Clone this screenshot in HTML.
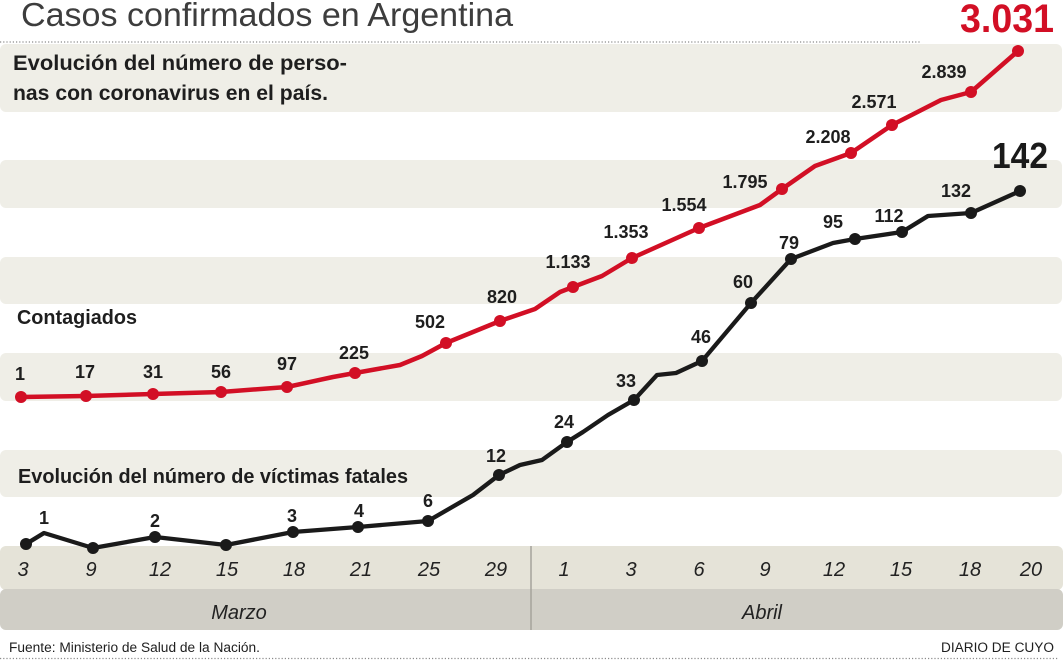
<!DOCTYPE html>
<html>
<head>
<meta charset="utf-8">
<style>
html,body{margin:0;padding:0;background:#fff;}
svg{display:block;}
text{font-family:"Liberation Sans",Arial,sans-serif;}
.lbl{font-size:18px;font-weight:bold;fill:#1e1e1e;text-anchor:middle;}
.ax{font-size:20px;font-style:italic;fill:#222;text-anchor:middle;}
</style>
</head>
<body>
<svg width="1064" height="663" viewBox="0 0 1064 663" xmlns="http://www.w3.org/2000/svg">
  <!-- bands -->
  <rect x="0" y="44" width="1062" height="68" rx="6" fill="#efeee7"/>
  <rect x="0" y="160" width="1062" height="48" rx="6" fill="#efeee7"/>
  <rect x="0" y="257" width="1062" height="47" rx="6" fill="#efeee7"/>
  <rect x="0" y="353" width="1062" height="48" rx="6" fill="#efeee7"/>
  <rect x="0" y="450" width="1062" height="47" rx="6" fill="#efeee7"/>
  <rect x="0" y="546" width="1063" height="44" rx="6" fill="#e5e3d8"/>
  <rect x="0" y="589" width="1063" height="41" rx="6" fill="#d0cec6"/>
  <line x1="531" y1="546" x2="531" y2="630" stroke="#a5a39c" stroke-width="1.5"/>

  <!-- dotted lines -->
  <line x1="0" y1="42" x2="920" y2="42" stroke="#8a8a8a" stroke-width="1.2" stroke-dasharray="1.2 2"/>
  <line x1="0" y1="658.5" x2="1058" y2="658.5" stroke="#8a8a8a" stroke-width="1.2" stroke-dasharray="1.2 2"/>

  <!-- title -->
  <text x="21" y="26" font-size="33" fill="#3d3d3d" textLength="492" lengthAdjust="spacingAndGlyphs">Casos confirmados en Argentina</text>
  <text x="960" y="32" font-size="40" font-weight="bold" fill="#d20f25" textLength="94" lengthAdjust="spacingAndGlyphs">3.031</text>

  <!-- subtitles -->
  <text x="13" y="70" font-size="21.5" font-weight="bold" fill="#1e1e1e" textLength="334" lengthAdjust="spacingAndGlyphs">Evolución del número de perso-</text>
  <text x="13" y="100" font-size="21.5" font-weight="bold" fill="#1e1e1e" textLength="315" lengthAdjust="spacingAndGlyphs">nas con coronavirus en el país.</text>
  <text x="17" y="324" font-size="20" font-weight="bold" fill="#1e1e1e" textLength="120" lengthAdjust="spacingAndGlyphs">Contagiados</text>
  <text x="18" y="483" font-size="20" font-weight="bold" fill="#1e1e1e" textLength="390" lengthAdjust="spacingAndGlyphs">Evolución del número de víctimas fatales</text>

  <!-- red line -->
  <polyline fill="none" stroke="#d20f25" stroke-width="4.5" stroke-linejoin="round" stroke-linecap="round"
    points="21,397 86,396 153,394 221,392 287,387 333,377 355,373 400,365 422,356 446,343 500,321 535,309 560,292 573,287 602,276 632,258 699,228 760,205 782,189 815,166 851,153 892,125 941,100 971,92 1018,51"/>
  <g fill="#d20f25">
    <circle cx="21" cy="397" r="6"/>
    <circle cx="86" cy="396" r="6"/>
    <circle cx="153" cy="394" r="6"/>
    <circle cx="221" cy="392" r="6"/>
    <circle cx="287" cy="387" r="6"/>
    <circle cx="355" cy="373" r="6"/>
    <circle cx="446" cy="343" r="6"/>
    <circle cx="500" cy="321" r="6"/>
    <circle cx="573" cy="287" r="6"/>
    <circle cx="632" cy="258" r="6"/>
    <circle cx="699" cy="228" r="6"/>
    <circle cx="782" cy="189" r="6"/>
    <circle cx="851" cy="153" r="6"/>
    <circle cx="892" cy="125" r="6"/>
    <circle cx="971" cy="92" r="6"/>
    <circle cx="1018" cy="51" r="6"/>
  </g>

  <!-- black line -->
  <polyline fill="none" stroke="#1a1a1a" stroke-width="4.3" stroke-linejoin="round" stroke-linecap="round"
    points="26,544 44,533 93,548 155,537 226,545 293,532 358,527 428,521 473,495 499,475 520,465 542,460 567,442 583,432 608,415 634,400 657,375 676,373 702,361 751,303 791,259 833,243 855,239 902,232 928,216 971,213 1020,191"/>
  <g fill="#1a1a1a">
    <circle cx="26" cy="544" r="6"/>
    <circle cx="93" cy="548" r="6"/>
    <circle cx="155" cy="537" r="6"/>
    <circle cx="226" cy="545" r="6"/>
    <circle cx="293" cy="532" r="6"/>
    <circle cx="358" cy="527" r="6"/>
    <circle cx="428" cy="521" r="6"/>
    <circle cx="499" cy="475" r="6"/>
    <circle cx="567" cy="442" r="6"/>
    <circle cx="634" cy="400" r="6"/>
    <circle cx="702" cy="361" r="6"/>
    <circle cx="751" cy="303" r="6"/>
    <circle cx="791" cy="259" r="6"/>
    <circle cx="855" cy="239" r="6"/>
    <circle cx="902" cy="232" r="6"/>
    <circle cx="971" cy="213" r="6"/>
    <circle cx="1020" cy="191" r="6"/>
  </g>

  <!-- red labels -->
  <text class="lbl" x="20" y="380">1</text>
  <text class="lbl" x="85" y="378">17</text>
  <text class="lbl" x="153" y="378">31</text>
  <text class="lbl" x="221" y="378">56</text>
  <text class="lbl" x="287" y="370">97</text>
  <text class="lbl" x="354" y="359">225</text>
  <text class="lbl" x="430" y="328">502</text>
  <text class="lbl" x="502" y="303">820</text>
  <text class="lbl" x="568" y="268">1.133</text>
  <text class="lbl" x="626" y="238">1.353</text>
  <text class="lbl" x="684" y="211">1.554</text>
  <text class="lbl" x="745" y="188">1.795</text>
  <text class="lbl" x="828" y="143">2.208</text>
  <text class="lbl" x="874" y="108">2.571</text>
  <text class="lbl" x="944" y="78">2.839</text>

  <!-- black labels -->
  <text class="lbl" x="44" y="524">1</text>
  <text class="lbl" x="155" y="527">2</text>
  <text class="lbl" x="292" y="522">3</text>
  <text class="lbl" x="359" y="517">4</text>
  <text class="lbl" x="428" y="507">6</text>
  <text class="lbl" x="496" y="462">12</text>
  <text class="lbl" x="564" y="428">24</text>
  <text class="lbl" x="626" y="387">33</text>
  <text class="lbl" x="701" y="343">46</text>
  <text class="lbl" x="743" y="288">60</text>
  <text class="lbl" x="789" y="249">79</text>
  <text class="lbl" x="833" y="228">95</text>
  <text class="lbl" x="889" y="222">112</text>
  <text class="lbl" x="956" y="197">132</text>
  <text x="992" y="168" font-size="36" font-weight="bold" fill="#1a1a1a" textLength="56" lengthAdjust="spacingAndGlyphs">142</text>

  <!-- axis labels -->
  <text class="ax" x="23" y="576">3</text>
  <text class="ax" x="91" y="576">9</text>
  <text class="ax" x="160" y="576">12</text>
  <text class="ax" x="227" y="576">15</text>
  <text class="ax" x="294" y="576">18</text>
  <text class="ax" x="361" y="576">21</text>
  <text class="ax" x="429" y="576">25</text>
  <text class="ax" x="496" y="576">29</text>
  <text class="ax" x="564" y="576">1</text>
  <text class="ax" x="631" y="576">3</text>
  <text class="ax" x="699" y="576">6</text>
  <text class="ax" x="765" y="576">9</text>
  <text class="ax" x="834" y="576">12</text>
  <text class="ax" x="901" y="576">15</text>
  <text class="ax" x="970" y="576">18</text>
  <text class="ax" x="1031" y="576">20</text>

  <text class="ax" x="239" y="619" font-size="19.5">Marzo</text>
  <text class="ax" x="762" y="619" font-size="19.5">Abril</text>

  <!-- footer -->
  <text x="9" y="652" font-size="13.5" fill="#1e1e1e" textLength="251" lengthAdjust="spacingAndGlyphs">Fuente: Ministerio de Salud de la Nación.</text>
  <text x="941" y="652" font-size="13.5" fill="#1e1e1e" textLength="113" lengthAdjust="spacingAndGlyphs">DIARIO DE CUYO</text>
</svg>
</body>
</html>
